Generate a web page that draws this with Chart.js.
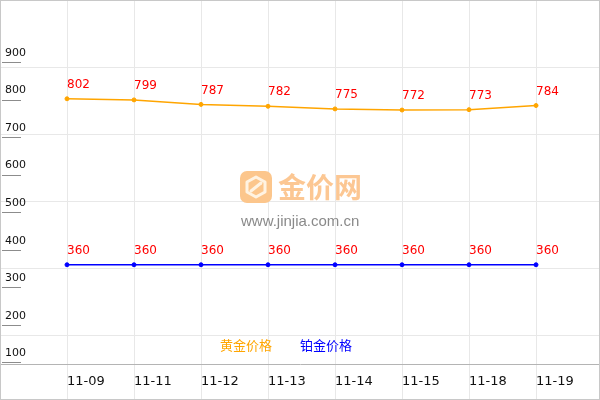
<!DOCTYPE html>
<html>
<head>
<meta charset="utf-8">
<title>金价走势</title>
<script src="https://cdn.jsdelivr.net/npm/chart.js@4.4.1/dist/chart.umd.min.js"></script>
<style>
  html, body { margin: 0; padding: 0; background: #fff; }
  .wrap { position: relative; width: 600px; height: 400px; }
  canvas { display: block; }
  .logo { position: absolute; left: 240px; top: 171px; pointer-events: none; }
  .brand { position: absolute; left: 278px; top: 171px; font: bold 28px/30px "Noto Sans CJK SC", sans-serif; color: #fcc793; white-space: nowrap; pointer-events: none; letter-spacing: 0px; }
  .site { position: absolute; left: 241px; top: 213px; font: 15px/15px "Liberation Sans", Arial, sans-serif; color: #8a8a8a; white-space: nowrap; pointer-events: none; }
</style>
</head>
<body>
<div class="wrap">
  <canvas id="priceChart" width="600" height="400"></canvas>
  <svg class="logo" width="32" height="32" viewBox="0 0 32 32">
    <rect x="0" y="0" width="32" height="32" rx="7" fill="#fcc68c"/>
    <path d="M16 6 L25 11 L25 21 L16 26 L7 21 L7 11 Z" fill="none" stroke="#fff3e2" stroke-width="3" stroke-linejoin="round"/>
    <path d="M11 20 L21 12" stroke="#fff3e2" stroke-width="3" stroke-linecap="round"/>
  </svg>
  <div class="brand">金价网</div>
  <div class="site">www.jinjia.com.cn</div>
</div>
<script>
const dates = ['11-09', '11-11', '11-12', '11-13', '11-14', '11-15', '11-18', '11-19'];
const goldPrices = [802, 799, 787, 782, 775, 772, 773, 784];
const platinumPrices = [360, 360, 360, 360, 360, 360, 360, 360];
const yTickValues = [100, 200, 300, 400, 500, 600, 700, 800, 900];
const seriesNames = ['黄金价格', '铂金价格'];

const GOLD = '#ffa500';
const BLUE = '#0000ff';
const GRID = '#e8e8e8';

function toPoints(values) {
  return values.map((v, i) => ({ x: i + 1, y: v }));
}

// no label overhang padding, the chart fills the frame
function noPadding(s) {
  s.paddingLeft = s.paddingRight = s.paddingTop = s.paddingBottom = 0;
}

// extra drawing: tick stubs, grid through the date row, value labels, legend, frame
const decor = {
  id: 'decor',
  beforeDraw(chart) {
    const { ctx, chartArea, scales } = chart;
    ctx.save();
    ctx.strokeStyle = GRID;
    ctx.lineWidth = 1;
    scales.x.ticks.forEach(t => {
      const px = Math.round(scales.x.getPixelForValue(t.value)) + 0.5;
      ctx.beginPath();
      ctx.moveTo(px, chartArea.bottom);
      ctx.lineTo(px, chart.height);
      ctx.stroke();
    });
    ctx.restore();
  },
  afterDatasetsDraw(chart) {
    const { ctx, scales } = chart;
    ctx.save();

    // short marks under the y labels
    ctx.strokeStyle = '#8c8c8c';
    ctx.lineWidth = 1;
    scales.y.ticks.forEach(t => {
      const py = Math.round(scales.y.getPixelForValue(t.value)) + 0.5;
      ctx.beginPath();
      ctx.moveTo(2, py);
      ctx.lineTo(21, py);
      ctx.stroke();
    });

    // value labels above each point
    ctx.font = '12px "DejaVu Sans", Verdana, sans-serif';
    ctx.fillStyle = '#ff0000';
    ctx.textAlign = 'left';
    ctx.textBaseline = 'middle';
    chart.data.datasets.forEach((ds, i) => {
      chart.getDatasetMeta(i).data.forEach((pt, j) => {
        ctx.fillText(String(ds.data[j].y), pt.x, pt.y - 14);
      });
    });

    // legend, text only
    ctx.font = '13px "Noto Sans CJK SC", sans-serif';
    let lx = 220;
    chart.data.datasets.forEach(ds => {
      ctx.fillStyle = ds.borderColor;
      ctx.fillText(ds.label, lx, 345);
      lx += 80;
    });

    // frame
    ctx.strokeStyle = '#c8c8c8';
    ctx.strokeRect(0.5, 0.5, chart.width - 1, chart.height - 1);
    ctx.restore();
  }
};

new Chart(document.getElementById('priceChart'), {
  type: 'line',
  data: {
    datasets: [
      {
        label: seriesNames[0],
        data: toPoints(goldPrices),
        borderColor: GOLD,
        backgroundColor: GOLD,
        borderWidth: 1.5,
        pointRadius: 2,
        pointBorderWidth: 1,
        tension: 0
      },
      {
        label: seriesNames[1],
        data: toPoints(platinumPrices),
        borderColor: BLUE,
        backgroundColor: BLUE,
        borderWidth: 1.5,
        pointRadius: 2,
        pointBorderWidth: 1,
        tension: 0
      }
    ]
  },
  options: {
    responsive: false,
    animation: false,
    layout: { autoPadding: false, padding: { left: 0, right: 0, top: 0, bottom: 2 } },
    plugins: {
      legend: { display: false },
      tooltip: { enabled: false }
    },
    scales: {
      x: {
        type: 'linear',
        min: 0,
        max: 8.955,
        grid: { color: GRID, drawTicks: false },
        border: { color: '#b4b4b4' },
        afterFit: noPadding,
        ticks: {
          stepSize: 1,
          includeBounds: false,
          autoSkip: false,
          maxRotation: 0,
          align: 'start',
          padding: 9,
          color: '#111',
          font: { family: '"DejaVu Sans", Verdana, sans-serif', size: 13 },
          callback: v => dates[v - 1] || ''
        }
      },
      y: {
        type: 'linear',
        position: 'left',
        min: 94.7,
        max: 1065,
        grid: { drawOnChartArea: false, drawTicks: false },
        border: { display: false },
        afterBuildTicks: s => { s.ticks = yTickValues.map(v => ({ value: v })); },
        afterFit: s => { s.width = 0; noPadding(s); },
        ticks: {
          mirror: true,
          padding: 5,
          labelOffset: -9,
          color: '#111',
          font: { family: '"DejaVu Sans", Verdana, sans-serif', size: 11 },
          callback: v => String(v)
        }
      },
      yGrid: {
        type: 'linear',
        position: 'left',
        reverse: true,
        min: 0,
        max: 5.433,
        grid: { color: GRID, drawTicks: false },
        border: { display: false },
        afterFit: s => { s.width = 0; noPadding(s); },
        ticks: { display: false, stepSize: 1, includeBounds: false }
      }
    }
  },
  plugins: [decor]
});
</script>
</body>
</html>
